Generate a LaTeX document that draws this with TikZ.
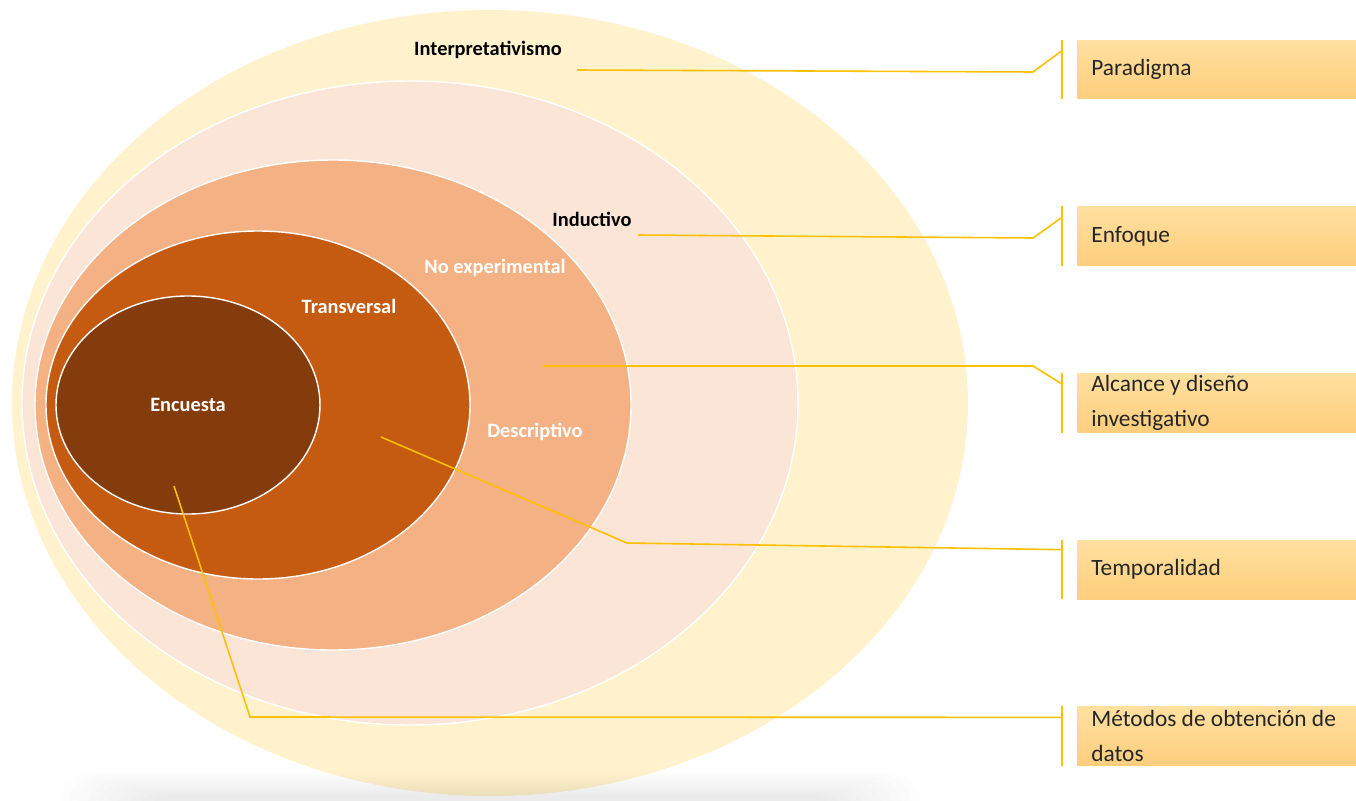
\documentclass[tikz,border=0pt]{standalone}
\usepackage{fontspec}
\setmainfont{Carlito}
\usepackage{tikz}
\usetikzlibrary{positioning}
\definecolor{creamfill}{RGB}{255,242,204}
\definecolor{peachfill}{RGB}{251,229,214}
\definecolor{apricotfill}{RGB}{244,177,131}
\definecolor{rustfill}{RGB}{197,90,17}
\definecolor{brownfill}{RGB}{132,60,12}
\definecolor{goldline}{RGB}{255,192,0}
\definecolor{tagtop}{RGB}{255,224,160}
\definecolor{tagbottom}{RGB}{253,206,124}
\definecolor{tagtext}{RGB}{38,38,38}

\begin{document}
\begin{tikzpicture}[x=0.02cm,y=-0.02cm,
      layer/.style={draw=white,line width=0.8pt},
      ringlabel/.style={font=\fontsize{11.6}{14}\selectfont\bfseries,inner sep=1pt},
      tag/.style={anchor=west,top color=tagtop,bottom color=tagbottom,draw=none,
        minimum height=1.18cm,text width=5.6cm,inner xsep=0.28cm,inner ysep=0pt,
        align=flush left,text=tagtext,font=\fontsize{13.3}{19.8}\selectfont},
      lead/.style={goldline,line width=0.9pt}
    ]
    \clip (0,0) rectangle (1356,801);

    \fill[creamfill] (490,403) ellipse [x radius=478,y radius=393];
    \filldraw[layer,fill=peachfill] (410,403) ellipse [x radius=388,y radius=322];
    \filldraw[layer,fill=apricotfill] (333,405) ellipse [x radius=298,y radius=245];
    \filldraw[layer,fill=rustfill] (258,405) ellipse [x radius=212,y radius=174];
    \filldraw[layer,fill=brownfill] (188,405) ellipse [x radius=132,y radius=109];

    \foreach \k in {0,...,9}
      \fill[black,opacity=0.009,rounded corners=0.6cm] (60+\k*9,772+\k*2.5) rectangle (920-\k*9,840);

    \node[ringlabel] (interp) at (488,50) {Interpretativismo};
    \node[ringlabel] (induct) at (592,219) {Inductivo};
    \node[ringlabel,text=white] (noexp) at (495,268) {No experimental};
    \node[ringlabel,text=white] (transv) at (349,306) {Transversal};
    \node[ringlabel,text=white] (descr) at (535,432) {Descriptivo};
    \node[ringlabel,text=white] (encuesta) at (188,405) {Encuesta};

    \node[tag] (paradigma) at (1077,69.5) {Paradigma};
    \node[tag,below=2.14cm of paradigma] (enfoque) {Enfoque};
    \node[tag,below=2.14cm of enfoque] (alcance) {Alcance y diseño\\investigativo};
    \node[tag,below=2.14cm of alcance] (temporalidad) {Temporalidad};
    \node[tag,below=2.14cm of temporalidad] (metodos) {Métodos de obtención de\\datos};

    \foreach \t in {paradigma,enfoque,alcance,temporalidad,metodos}
      \draw[lead] ([xshift=-0.3cm]\t.north west) -- ([xshift=-0.3cm]\t.south west);

    \coordinate (pinparadigma) at (577,70);
    \coordinate (pinenfoque) at (638,235);
    \coordinate (pinalcance) at (543,366);
    \coordinate (pintemporal) at (381,437);
    \coordinate (pinmetodos) at (174,486);

    \draw[lead] (pinparadigma) -- (1033,72) -- ([xshift=-0.3cm,yshift=-0.22cm]paradigma.north west);
    \draw[lead] (pinenfoque) -- (1033,238) -- ([xshift=-0.3cm,yshift=-0.22cm]enfoque.north west);
    \draw[lead] (pinalcance) -- (1033,366) -- ([xshift=-0.3cm,yshift=-0.22cm]alcance.north west);
    \draw[lead] (pintemporal) -- (627,543) -- ([xshift=-0.3cm,yshift=-0.2cm]temporalidad.north west);
    \draw[lead] (pinmetodos) -- (250,717) -- ([xshift=-0.3cm,yshift=-0.22cm]metodos.north west);
  \end{tikzpicture}
\end{document}
